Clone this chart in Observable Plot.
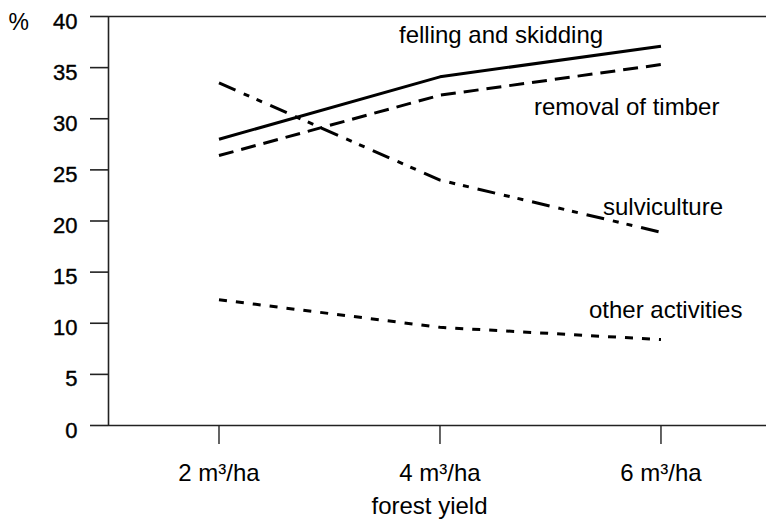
<!DOCTYPE html>
<html>
<head>
<meta charset="utf-8">
<script src="https://cdn.jsdelivr.net/npm/d3@7"></script>
<script src="https://cdn.jsdelivr.net/npm/@observablehq/plot@0.6"></script>
<style>
  html, body { margin: 0; padding: 0; background: #fff; }
  #chart svg { display: block; }
</style>
</head>
<body>
<div id="chart"></div>
<script>
// ---- data ----
const yields = [2, 4, 6];
const yieldLabels = ["2 m³/ha", "4 m³/ha", "6 m³/ha"];
const yTicks = [0, 5, 10, 15, 20, 25, 30, 35, 40];
const seriesNames = ["felling and skidding", "removal of timber", "sulviculture", "other activities"];
const felling = [28.0, 34.1, 37.1];
const removal = [26.4, 32.3, 35.3];
const sulviculture = [33.5, 24.0, 18.9];
const other = [12.3, 9.6, 8.4];
const yUnit = "%";
const xTitle = "forest yield";

// ---- build table ----
const seriesValues = [felling, removal, sulviculture, other];
const rows = [];
seriesNames.forEach((s, si) => {
  yields.forEach((x, i) => rows.push({series: s, x, y: seriesValues[si][i]}));
});

// styles per series (dash patterns, label offsets from the last point)
const styles = {
  "felling and skidding": {dash: null, dx: -262, dy: -11},
  "removal of timber": {dash: "15,8", dx: -127, dy: 43},
  "sulviculture": {dash: "18,9,6,8,6,9", dx: -58, dy: -25},
  "other activities": {dash: "8,9", dx: -72, dy: -29}
};

const font = "'Liberation Sans', Arial, Helvetica, sans-serif";

const lineMarks = seriesNames.map(s => Plot.line(rows.filter(r => r.series === s), {
  x: "x", y: "y", stroke: "#000", strokeWidth: 3,
  strokeDasharray: styles[s].dash || undefined,
  strokeLinejoin: "round", strokeLinecap: "butt"
}));

const labelMarks = seriesNames.map(s => {
  const pts = rows.filter(r => r.series === s);
  const last = pts[pts.length - 1];
  return Plot.text([last], {
    x: "x", y: "y", text: () => s,
    textAnchor: "start", lineAnchor: "middle",
    dx: styles[s].dx, dy: styles[s].dy,
    fontSize: 24, fill: "#000"
  });
});

const chart = Plot.plot({
  width: 766,
  height: 520,
  marginLeft: 108,
  marginRight: 0,
  marginTop: 16,
  marginBottom: 95,
  style: {fontFamily: font, background: "#fff", color: "#000"},
  x: {type: "linear", domain: [1, 6.955]},
  y: {domain: [0, 40]},
  marks: [
    Plot.ruleX([1], {stroke: "#222", strokeWidth: 1.6}),
    Plot.ruleY([0, 40], {stroke: "#222", strokeWidth: 1.6}),
    Plot.axisY({
      ticks: yTicks, tickSize: 18, tickFormat: () => "",
      label: null, stroke: "#222", strokeWidth: 1.6
    }),
    Plot.text(yTicks, {
      x: 1, y: d => d, text: d => String(d),
      textAnchor: "end", lineAnchor: "middle",
      dx: -31, dy: 5, fontSize: 22, fill: "#000",
      stroke: "#000", strokeWidth: 0.4
    }),
    Plot.axisX({
      ticks: yields, tickFormat: d => yieldLabels[yields.indexOf(d)],
      tickSize: 19, tickPadding: 19, fontSize: 24,
      label: null, stroke: "#222", strokeWidth: 1.4, fill: "#000"
    }),
    Plot.text([yUnit], {
      frameAnchor: "top-left", text: d => d, textAnchor: "start",
      lineAnchor: "middle", dx: -100, dy: 6, fontSize: 23, fill: "#000"
    }),
    Plot.text([xTitle], {
      frameAnchor: "bottom", text: d => d, textAnchor: "middle",
      lineAnchor: "middle", dx: -8, dy: 81, fontSize: 24, fill: "#000"
    }),
    ...lineMarks,
    ...labelMarks
  ]
});

document.getElementById("chart").appendChild(chart);
</script>
</body>
</html>
